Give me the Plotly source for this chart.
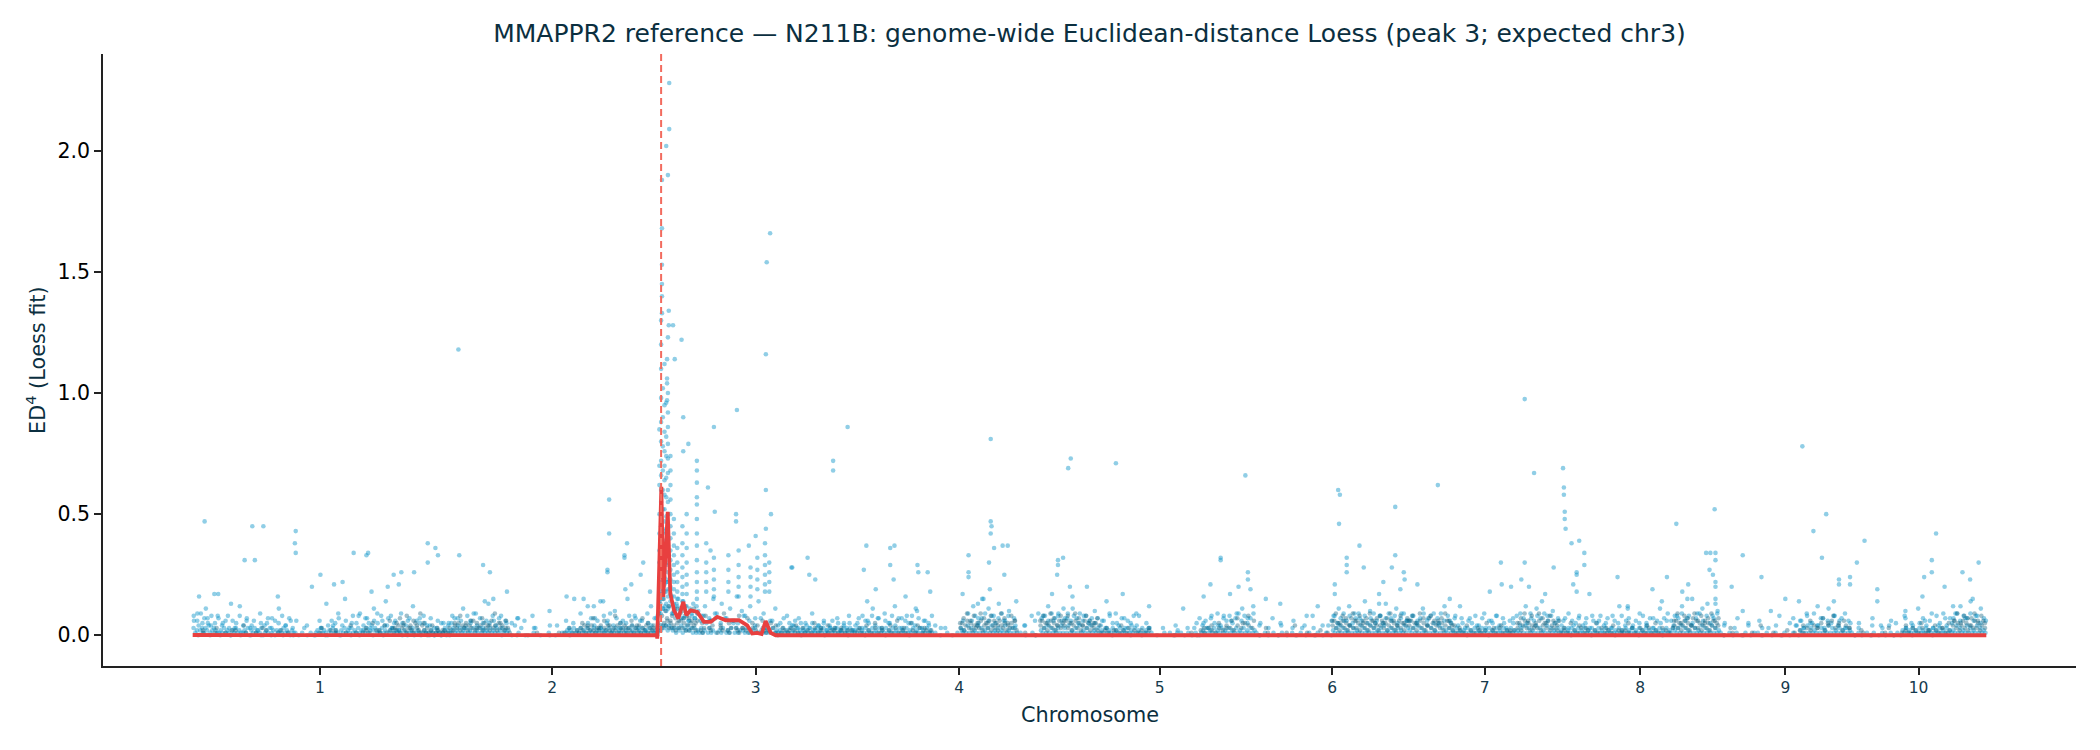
import plotly.graph_objects as go

# ---------------- data ----------------
CHROMS = ["1", "2", "3", "4", "5", "6", "7", "8", "9", "10"]
CHROM_LEN_MB = [299, 246, 232, 246, 225, 180, 178, 187, 154, 159]

# Dense band near zero, read per chromosome as evenly spaced samples.
# Each character = ED^4 value in hundredths (base-36), "." = no SNP.
BAND_LIGHT_LOW = [
    "3124231324 1232112131 2102131211 2130213121 3012131202 1213121021 1.0.1..0.1 .012131210 2131210213 1213121312 2131242312 1312412312 1210210121 0121012110 2101210120",
    "212 3121312131 2131213121 2131213120 121..0...1 ...0....1. ..0....1.. .0...1.121 2131213121 3121312132 1213121312 1312131213 1213121312 12",
    "1 32434243 2313241324 231312 1312.1312. 1.213.1213 .1312.2131 .2131.1213 121.312 1213121312 1312131213 1213121312 1312131213 121312",
    "2131213121 3121312131 2131213121 3121312131 213121 .1..0...1. .0..1. 3121413121 4131213141 2131214121 3141 .1..0...1. 0.. 2131413121 3141",
    "3141213141 2131412131 2131213121 3121312131 2131213 1..0...1.. 1.0.1.1.0. 1.0.1.0 1213121312 1312131213 1213121312",
    "1.0..1.0.. 1..0.1..0. .1.0..1..0 .1..0.1..0 .1..0 2131413121 4131214131 2141312131 4121312131 21413",
    "2131413121 4131214131 213121 3121213121 3121312131 2131213121 3121 2131413121 4131214131 2131",
    "2131213121 3121312131 21312 1312131213 1213121312 1312131213 1213121312 13 2131413121 4131214131 2141312",
    "1.0..1.0.1 ..0.1..0.1 .1.0..1..0 .1..0.1..0 .1..0 2131413121 4131214131 213121312",
    "1.0.1.0..1 .0.1..0.1. 0..1.0.1.0 2131213121 3121312131 2131213121 2141312141 3121413121",
]
BAND_LIGHT_MID = [
    "8697585746 3658473625 4736584736 ..4...3.46 5746385947 3658473625 4736584736 53",
    "4 5746385947 3658473625 4736 ..3....4.. ...3..... 5746385947 3658473625 47",
    "8 9bac9a8b 7968796857 69.5.7.6 .5.8.6.4.7 .5.6.4.7.5 4635243524 3524635243 52",
    "4736584736 5847365847 36584 ..3....2.. 6857968579 68.3..4. 8697869786",
    "7968796857 5746385947 36584 ...3...... ..4...3.. 5746385947 6857968579",
    ".4..3...5. ..3...4..3 ..4.. 6857968579 6857968579 685796",
    "6857968579 6857 4736584736 5847365847 5968796857",
    "4736584736 58473 6584736584 7365 7968796857 968579",
    ".4..3...5. ..3...4... 5746385947 36584736",
    "..3...4..3 .4.5..3.4. 5746385947 7968796857",
]
BAND_DARK_LOW = [
    "...0..1... 0..1..0..1 ..0..2..0. .1..0..1.. 0..2..0... 1..0..1..0 .......... ..0..1..0. .2..1..0.. 1..0..1.0. 1.2.1.0.2. 1.0.1.2.13 2413521342 1532142101 2101210121",
    "101 2435243524 3625342534 2634253426 31...0.... .0....1... ...0....1. .1..0.1.21 3241324213 2413242132 4132413241 3241324132 41",
    "0 24354635 3425363524 253426 .213..324. .1.32..213 ..321.3.2. 1.3.21..32 1.2.3.1 0.1.2.1.3. 2.1.0.1.2. 1.3.1.2.0. 1.2.3.1.2. 1.0.2.",
    "1.2.1.0.2. 1.3.1.2.0. 2.1.3.1.2. 1.0.2.1.3. 1.2.1. .......... ...... 3524635243 5362453624 3526435243 5362 ....1..... 0.. 4635246352 4635",
    "4635246352 4635243524 1.2.1.0.2. 1.2.1.0.2. 1.0.1.2 .......... ...0...... ..1..0. 2.1.3.2.1. 3.2.4.3.2. 4.3.5.4.3.",
    "..0....1.. ...0....1. ....0..... 1....0.... ..1.. 4635246352 4736352463 5246357246 3524635246 35246",
    "4635246352 4735246352 463524 1.2.1.0.2. 1.3.1.2.0. 2.1.3.1.2. 1.2. 3524635243 5362453624 3526",
    "1.2.1.0.2. 1.3.1.2.0. 2.1.3 .1.2.1.0.2 .1.2.1.3.1 .0.2.1.3.1 .2.1.0.2.1 .3 4635246352 4736352463 5246357",
    "..0....1.. ...0....1. ....0..... 1....0.... ..1.. 2.1.3.2.4. 3.5.2.4.6. 3.5.2.4.3",
    "..0....1.. ..0....... 1....0.... 1.2.1.0.2. 1.3.1.2.0. 2.1.3.1.2. 4635246352 4736352463",
]
SCATTER_LIGHT = [
    "6.9g.5.b7. 4.h.8..5.. 8...3..c.. .6..4....9 ...5..7... b...4..6.. .....3.... ....6...d. ..4..9...f ...5...8.. .7.5..b.9. .6.e..8.5. ..9...6..c ...7..5..4 ...3...5..",
    "5.8 ..7..b...6 ..9...5..d ..6...8..5 .....7.... .....3.... .......4.. ..6...5... 9...c...7. .e...6...a ..5...f...8 ..6...9.c. .7",
    "5 fhkcmbjg 9bdfa7e8c6 b9d7ca .8.c..6.f. 9..d.7..b. 5.g..a.8.. c..7.e..9. ..6..b. .5...8...4 ..7...5... 9...4..6.. .3...7...5 ..8...",
    ".5..8..6.. b..7...9.. 5..c...7.. 8..5..a... 6..4.. ....3..... ...... .6..9..c.. 7..f..b..8 ..d..6..a. .7.. ...4...... ... .8..c..6.. 9..b",
    ".7..b..5.. 8..6..a... 6...9...5. ..7...4... 8...5.. ......3... ....2..... ...3... .5...7...4 ..8...6..9 ..b..7..c.",
    "..5...... 7....4.... ..6....3.. ...8..... ...4. .8..b..6.. c..9..7..e ..a..5..8. .d..7..b.. 9..6.",
    ".8..6..b.. 7..9..5..c ..6..8 ...5...7.. .4...9...6 ..8...5... .7.. .9..c..7.. b..e..8..a ..6.",
    ".6..9..4.. 7...5...8. ..6.. .5...8...c ...6...4.. .9...5...7 ...b...6.. .4 .8..c..7.. f..9..b..d ..8..a.",
    "..5...... 7.....4... ..6....3.. ...8..... ...4. .6..9..5.. c..7..b..8 ..6..9..5",
    "....5..... ..7....4.. ...6...... .8...5...b ...6...9.. .4...7...5 .9..c..7.. e..8..b..6",
]
SCATTER_DARK = [
    "......2... ....3..... ...2...... 4......... .3........ ..2....... .......... ......3... ....2..... ...4...... ..3...5... 2..4..6.3. 5.7.4.8.3. 6.4.9.5.3. .4..3..2..",
    ".3. .5..8..4.. 6..3..7... 4..9..5..3 .......... .......... .......... ....3..... .5..4..7.. 3..6..4..8 ..5..3..6. .4..7..5.. 3.",
    "3 9d8fa7c6 8a7b69a7c8 7a6b59 ..5.8..6.. 7..4.9..5. .6..8.3..7 ..5..4..6. 3..5..4 ...3...2.. .4...3.... ..5...3... 4...2...3. ..2...",
    "...3...4.. ..5...3... .4...6...3 ...5...4.. .3...2 .......... ...... 5.7.9.6.8. 4.9.7.5.8. 6.4.9.7.5. 8.6. .......... ... 6.8.5.9.7. 4.8.",
    "6.8.5.9.7. 4.8.6.5.7. ...3...2.. .4...3.... ..2...3 .......... .......... ....... ..3...4... 5...3..6.. 7..5..8..6",
    "......3... .......... ...4...... ........2. ..... 6.9.5.8.7. 4.9.6.8.5. 7.9.6.4.8. 5.7.9.6.4. 8.5.7",
    "6.8.5.9.7. 4.8.6.5.7. 9.6.4. ..3...4... ...2...5.. .3...4.... 2... 5.7.9.6.8. 4.9.7.5.8. 6.4.",
    "..3...5... .4...3.... .5... ..3...4... .2...5.... ..3...4... .5...3.... .. 6.9.5.8.7. 4.9.6.8.5. 7.9.6.4",
    "......3... .......... ...4...... ........2. ..... ..4...6... 3..7..5..8 ..4..6..3",
    "......2... .......... ..3....... ..4...3... .5...2...4 ...3...5.. 6.9.5.8.7. 4.9.6.8.5",
]

# Isolated higher SNPs: (position within chromosome, Mb ; ED^4)
OUTLIERS_CHR1 = [(14, .47), (61, .31), (70, .45), (83, .45), (121, .43), (120, .38), (121, .34), (150, .25),
                 (140, .20), (189, .34), (204, .33), (206, .34), (245, .26), (260, .26), (236, .25), (276, .38),
                 (285, .36), (288, .33), (276, .30), (166, .21), (176, .22), (242, .21), (229, .20), (73, .31),
                 (100, .16), (30, .17), (45, .13), (210, .18)]
OUTLIERS_CHR2 = [(13, 1.18), (14, .33), (42, .29), (50, .26), (70, .18), (44, .14), (54, .15), (188, .26),
                 (208, .32), (211, .38), (216, .21), (227, .25), (209, .19), (238, .18), (183, .14), (160, .15),
                 (140, .16), (172, .12), (190, .56), (190, .42), (208, .33), (188, .27), (149, .15), (100, .08),
                 (120, .10), (230, .30)]
OUTLIERS_CHR3 = [(14.5, 2.28), (14.5, 2.09), (11, 2.02), (13, 1.90), (6, 1.88), (6, 1.68), (6, 1.53), (6, 1.45),
                 (6, 1.40), (6, 1.33), (14, 1.34), (14, 1.28), (13, 1.23), (12, 1.14), (19, 1.28), (29, 1.22),
                 (21, 1.14), (12, 1.06), (12, 1.04), (13, 1.00), (12, .97), (31, .90), (37, .79), (31, .76),
                 (47, .72), (47, .68), (47, .63), (47, .57), (47, .54), (60, .61), (67, .86), (94, .93), (68, .51),
                 (63, .35), (93, .50), (93, .47), (108, .37), (116, .41), (133, 1.66), (129, 1.54), (128, 1.16),
                 (128, .60), (134, .50), (128, .44), (207, .72), (207, .68), (224, .86), (177, .32), (159, .28),
                 (186, .23), (158, .28), (179, .25)]
OUTLIERS_CHR4 = [(14, .37), (42, .36), (47, .37), (42, .29), (46, .23), (11, .27), (25, .19), (74, .29),
                 (75, .26), (86, .26), (89, .18), (72, .11), (60, .16), (15, .14), (134, .33), (134, .26),
                 (134, .24), (158, .30), (164, .36), (174, .37), (180, .37), (159, .19), (176, .25), (127, .17),
                 (160, .81), (160, .47), (161, .45), (160, .42), (239, .31), (239, .29), (245, .32), (238, .25),
                 (232, .17), (150, .15), (145, .13), (190, .14)]
OUTLIERS_CHR5 = [(8, .73), (5, .69), (61, .71), (213, .66), (184, .32), (184, .31), (216, .26), (216, .23),
                 (219, .19), (205, .20), (172, .21), (195, .17), (164, .16), (69, .17), (50, .14), (27, .20),
                 (7, .20), (10, .16), (140, .11), (100, .12), (85, .09)]
OUTLIERS_CHR6 = [(97, .60), (99, .58), (98, .46), (164, .53), (122, .37), (107, .32), (107, .29), (107, .26),
                 (93, .21), (93, .17), (127, .28), (164, .33), (160, .28), (174, .26), (175, .23), (145, .17),
                 (145, .13), (29, .13), (12, .15), (73, .12), (60, .08), (170, .19), (150, .22)]
OUTLIERS_CHR7 = [(34, .62), (10, .21), (108, .30), (109, .21), (136, .975), (136, .30), (141, .20), (95, .18),
                 (147, .67), (132, .23), (120, .20), (60, .12), (48, .15), (160, .17), (170, .28)]
OUTLIERS_CHR8 = [(3, .69), (4, .61), (4, .58), (5, .51), (5, .48), (6, .44), (13, .38), (22, .39), (28, .34),
                 (28, .29), (19, .26), (19, .25), (15, .21), (19, .18), (34, .17), (67, .24), (79, .12), (79, .11),
                 (108, .19), (125, .24), (119, .14), (143, .18), (150, .21), (149, .15), (171, .34), (176, .34),
                 (182, .34), (182, .31), (175, .27), (179, .25), (182, .22), (182, .20), (182, .15), (182, .13),
                 (136, .46), (181, .52)]
OUTLIERS_CHR9 = [(27, .33), (14, .20), (27, .10), (49, .24), (93, .14), (120, .32), (134, .14), (140, .23),
                 (140, .21), (153, .24), (153, .21), (97, .78), (110, .43), (125, .50), (77, .15), (60, .10)]
OUTLIERS_CHR10 = [(7, .30), (16, .39), (31, .19), (31, .14), (64, .10), (64, .07), (84, .16), (86, .24),
                  (95, .31), (95, .26), (131, .26), (140, .23), (143, .15), (120, .12), (110, .20), (150, .30),
                  (100, .42)]
OUTLIERS = [OUTLIERS_CHR1, OUTLIERS_CHR2, OUTLIERS_CHR3, OUTLIERS_CHR4, OUTLIERS_CHR5,
            OUTLIERS_CHR6, OUTLIERS_CHR7, OUTLIERS_CHR8, OUTLIERS_CHR9, OUTLIERS_CHR10]

# Dense SNP columns under the chr3 peak: (position Mb, ED^4 values)
PEAK_COLUMNS_CHR3 = [
    (3, [0.85, 0.70, 0.62, 0.50, 0.42, 0.35, 0.30, 0.22, 0.18, 0.14, 0.10]),
    (5, [1.30, 1.20, 1.10, 0.98, 0.88, 0.80, 0.72, 0.66, 0.60, 0.55, 0.50, 0.45, 0.40, 0.36, 0.32, 0.28, 0.25]),
    (7, [1.02, 0.90, 0.78, 0.68, 0.60, 0.52, 0.44, 0.38, 0.30, 0.24, 0.19, 0.15, 0.11]),
    (9, [1.12, 0.95, 0.84, 0.76, 0.70, 0.64, 0.58, 0.52, 0.47, 0.43, 0.39, 0.35, 0.31, 0.27, 0.24, 0.21, 0.18]),
    (11, [0.96, 0.82, 0.74, 0.65, 0.57, 0.49, 0.42, 0.36, 0.29, 0.23, 0.18, 0.13]),
    (13, [0.92, 0.86, 0.79, 0.73, 0.67, 0.60, 0.55, 0.50, 0.46, 0.41, 0.37, 0.33, 0.30, 0.26, 0.22, 0.19, 0.16]),
    (16, [0.74, 0.68, 0.62, 0.56, 0.50, 0.45, 0.40, 0.35, 0.31, 0.27, 0.23, 0.20, 0.17, 0.14]),
    (20, [0.48, 0.42, 0.37, 0.33, 0.29, 0.25, 0.22, 0.19, 0.16, 0.13]),
    (24, [0.36, 0.30, 0.26, 0.22, 0.18, 0.15, 0.12]),
    (30, [0.45, 0.38, 0.33, 0.28, 0.24, 0.20, 0.17, 0.14]),
    (35, [0.50, 0.42, 0.36, 0.30, 0.25, 0.21, 0.17]),
    (47, [0.48, 0.42, 0.37, 0.31, 0.26, 0.22, 0.18, 0.15]),
    (58, [0.38, 0.30, 0.26, 0.22, 0.18]),
    (67, [0.32, 0.27, 0.23, 0.19, 0.16]),
    (84, [0.33, 0.27, 0.22, 0.18]),
    (96, [0.35, 0.29, 0.24, 0.20, 0.16]),
    (110, [0.28, 0.24, 0.20, 0.16]),
    (118, [0.32, 0.27, 0.23, 0.19]),
    (127, [0.38, 0.33, 0.29, 0.25, 0.21, 0.18]),
    (132, [0.30, 0.26, 0.22, 0.18]),
]

# Loess fit per chromosome (position Mb, fitted ED^4)
LOESS_POS_MB = [
    [0, 100, 200, 299],
    [0, 120, 246],
    [0, 0.5, 5.3, 7.6, 12.8, 15.8, 20.2, 25.2, 31.1, 34.6, 39.8, 47.5, 55.3, 63.2, 70.9, 80.8, 96.4,
     106.1, 112.0, 117.8, 123.0, 127.7, 133.6, 139.4, 232],
    [0, 120, 246],
    [0, 110, 222],
    [4, 90, 180],
    [0, 90, 178],
    [0, 90, 187],
    [0, 80, 154],
    [0, 80, 159],
]
LOESS_VALUE = [
    [0.001, 0.001, 0.001, 0.001],
    [0.001, 0.0, 0.0],
    [0.0, -0.014, 0.613, 0.158, 0.51, 0.172, 0.103, 0.069, 0.138, 0.083, 0.103, 0.096, 0.055, 0.055,
     0.076, 0.062, 0.062, 0.041, 0.007, 0.010, 0.005, 0.059, 0.010, 0.0, 0.0],
    [0.0, 0.0, 0.0],
    [0.0, 0.0, 0.0],
    [0.0, 0.0, 0.0],
    [0.0, 0.0, 0.0],
    [0.0, 0.0, 0.0],
    [0.0, 0.0, 0.0],
    [0.0, 0.0, 0.0],
]

PEAK_CHROM = "3"
PEAK_POS_MB = 5

TITLE = "MMAPPR2 reference — N211B: genome-wide Euclidean-distance Loess (peak 3; expected chr3)"
X_LABEL = "Chromosome"
Y_LABEL = "ED<sup>4</sup> (Loess fit)"

# ---------------- build ----------------
offsets = []
acc = 0
for L in CHROM_LEN_MB:
    offsets.append(acc)
    acc += L
GENOME = acc


def decode(row, length, shift):
    s = row.replace(" ", "")
    n = len(s)
    xs, ys = [], []
    for i, c in enumerate(s):
        if c == ".":
            continue
        xs.append(min((i + shift) * length / n, length))
        ys.append(int(c, 36) / 100.0)
    return xs, ys


light_x, light_y, dark_x, dark_y = [], [], [], []
for k, L in enumerate(CHROM_LEN_MB):
    off = offsets[k]
    for row, shift, tx, ty in [(BAND_LIGHT_LOW[k], 0.5, light_x, light_y),
                               (BAND_LIGHT_MID[k], 0.3, light_x, light_y),
                               (SCATTER_LIGHT[k], 0.75, light_x, light_y),
                               (BAND_DARK_LOW[k], 0.25, dark_x, dark_y),
                               (SCATTER_DARK[k], 0.1, dark_x, dark_y)]:
        xs, ys = decode(row, L, shift)
        tx.extend(off + x for x in xs)
        ty.extend(ys)
    for p, v in OUTLIERS[k]:
        light_x.append(off + p)
        light_y.append(v)

off3 = offsets[CHROMS.index("3")]
for p, vals in PEAK_COLUMNS_CHR3:
    for v in vals:
        light_x.append(off3 + p)
        light_y.append(v)

loess_x, loess_y = [], []
for k in range(len(CHROMS)):
    loess_x.extend(offsets[k] + p for p in LOESS_POS_MB[k])
    loess_y.extend(LOESS_VALUE[k])

tick_vals = [offsets[k] + CHROM_LEN_MB[k] / 2 for k in range(len(CHROMS))]
peak_x = offsets[CHROMS.index(PEAK_CHROM)] + PEAK_POS_MB

TEXT_DARK = "#0b2f40"
FONT = "DejaVu Sans"

fig = go.Figure()
fig.add_trace(go.Scatter(x=light_x, y=light_y, mode="markers",
                         marker=dict(size=4.6, color="#0893c8", opacity=0.45, line=dict(width=0)),
                         hoverinfo="skip", showlegend=False))
fig.add_trace(go.Scatter(x=dark_x, y=dark_y, mode="markers",
                         marker=dict(size=4.6, color="#0e5f7e", opacity=0.4, line=dict(width=0)),
                         hoverinfo="skip", showlegend=False))
fig.add_trace(go.Scatter(x=loess_x, y=loess_y, mode="lines",
                         line=dict(color="#e8403f", width=3.8),
                         hoverinfo="skip", showlegend=False))
fig.add_vline(x=peak_x, line=dict(color="#f26b5e", width=2, dash="7px,4px"))

x_pad = 0.05 * GENOME
fig.update_layout(
    width=2100, height=750,
    margin=dict(l=103, r=24, t=54, b=84),
    paper_bgcolor="white", plot_bgcolor="white",
    font=dict(family=FONT, color="black"),
    title=dict(text=TITLE, x=0.5, xref="paper", xanchor="center",
               y=1 - 33 / 750, yref="container", yanchor="middle",
               font=dict(family=FONT, size=25, color=TEXT_DARK)),
    xaxis=dict(range=[-x_pad, GENOME + x_pad], tickmode="array", tickvals=tick_vals, ticktext=CHROMS,
               showgrid=False, zeroline=False, showline=True, linecolor="#222222", linewidth=1.7,
               ticks="outside", ticklen=7, tickwidth=1.7, tickcolor="#222222",
               tickfont=dict(family=FONT, size=15.5, color="#163a4d")),
    yaxis=dict(range=[-0.127, 2.40], tickmode="array", tickvals=[0, 0.5, 1.0, 1.5, 2.0],
               ticktext=["0.0", "0.5", "1.0", "1.5", "2.0"],
               showgrid=False, zeroline=False, showline=True, linecolor="#222222", linewidth=1.7,
               ticks="outside", ticklen=7, tickwidth=1.7, tickcolor="#222222",
               tickfont=dict(family=FONT, size=20.5, color="black")),
    annotations=[
        dict(text=X_LABEL, x=0.5, y=-0.08, xref="paper", yref="paper", xanchor="center", yanchor="middle",
             showarrow=False, font=dict(family=FONT, size=20.8, color=TEXT_DARK)),
        dict(text=Y_LABEL, x=-0.034, y=0.5, xref="paper", yref="paper", xanchor="center", yanchor="middle",
             textangle=-90, showarrow=False, font=dict(family=FONT, size=20.8, color=TEXT_DARK)),
    ],
)

fig.write_html("out.html")
